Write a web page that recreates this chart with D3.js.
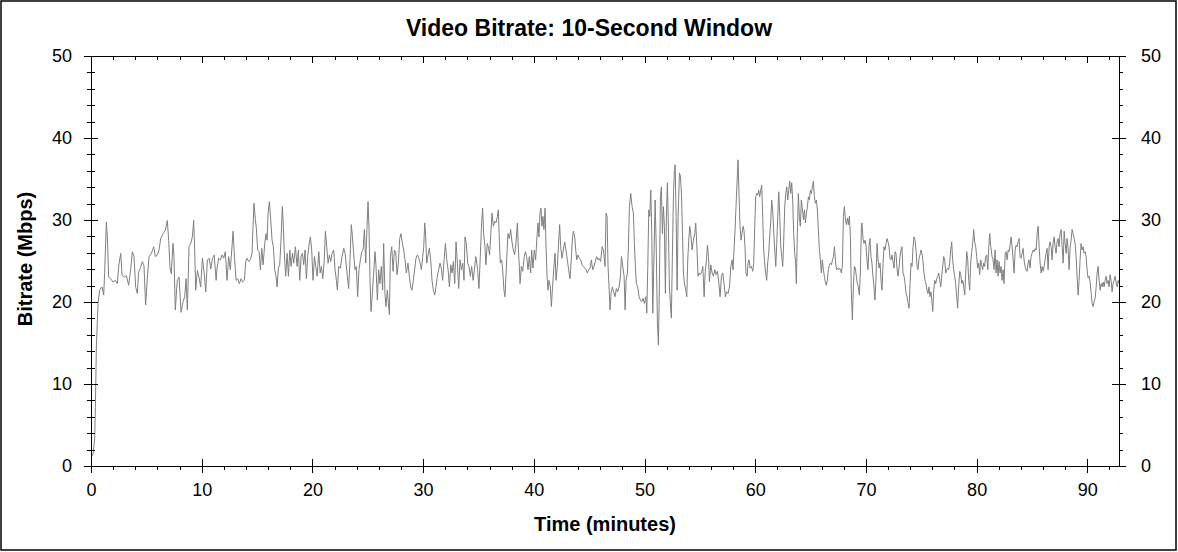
<!DOCTYPE html>
<html>
<head>
<meta charset="utf-8">
<script src="https://cdn.jsdelivr.net/npm/d3@7"></script>
<style>
  body { margin: 0; background: #fff; }
  svg { display: block; font-family: "Liberation Sans", Arial, sans-serif; }
  .axis text { font-size: 18px; fill: #000; }
  .axis line { stroke: #000; }
  .axis path.domain { display: none; }
</style>
</head>
<body>
<div id="chart"></div>
<script>
// minutes into the title
var timeMin = [
  0.05,0.14,0.29,0.35,0.44,0.59,0.74,0.95,1.10,1.19,
  1.34,1.43,1.55,1.73,1.94,2.15,2.33,2.48,2.64,2.76,
  3.00,3.15,3.36,3.54,3.69,3.84,3.99,4.14,4.26,4.44,
  4.59,4.74,4.89,5.05,5.20,5.41,5.62,5.77,5.95,6.10,
  6.25,6.46,6.67,6.85,6.97,7.09,7.21,7.36,7.45,7.57,
  7.75,7.91,8.09,8.27,8.42,8.54,8.66,8.81,8.96,9.11,
  9.23,9.32,9.41,9.56,9.71,9.86,10.02,10.17,10.32,10.47,
  10.63,10.78,10.93,11.08,11.26,
  11.34,11.49,11.64,11.79,11.94,12.09,12.24,12.39,12.54,12.70,
  12.79,12.91,13.06,13.21,13.36,13.51,13.66,13.81,13.93,14.05,
  14.20,14.35,14.50,14.59,14.68,14.80,14.89,15.01,15.14,15.26,
  15.38,15.50,15.65,15.77,15.86,15.95,16.07,16.19,16.31,16.43,
  16.55,16.67,16.76,16.88,17.00,17.12,17.24,17.33,17.42,17.54,
  17.67,17.79,17.91,18.03,18.15,18.27,18.42,18.57,18.69,18.81,
  18.93,19.05,19.17,19.29,19.41,19.53,19.65,19.77,19.89,20.01,
  20.14,20.26,20.38,20.53,20.65,20.77,20.89,21.01,21.13,21.25,
  21.37,21.49,21.61,21.73,21.88,22.00,22.12,22.21,22.33,22.48,
  22.63,22.79,22.91,
  23.11,23.23,23.35,23.47,23.56,23.68,23.80,23.92,24.04,24.16,
  24.29,24.41,24.53,24.65,24.77,24.89,24.98,25.07,25.16,25.25,
  25.37,25.49,25.61,25.70,25.82,25.94,26.06,26.18,26.30,26.39,
  26.51,26.60,26.72,26.82,26.91,27.00,27.12,27.24,27.36,27.48,
  27.60,27.72,27.84,27.96,28.08,28.20,28.32,28.44,28.59,28.71,
  28.83,28.95,29.07,29.19,29.31,29.44,29.56,29.68,29.80,29.92,
  30.01,30.10,30.19,30.28,30.40,30.52,30.64,30.76,30.88,31.00,
  31.12,31.24,31.36,31.48,31.60,31.72,31.85,31.97,32.09,32.21,
  32.33,32.45,32.57,32.69,32.81,32.93,33.05,33.17,33.29,33.41,
  33.53,33.65,33.74,33.86,33.98,34.10,34.22,34.34,34.47,34.59,
  34.71,
  34.76,34.88,35.00,35.12,35.24,35.33,35.42,35.54,35.63,35.75,
  35.87,35.96,36.09,36.18,36.30,36.42,36.54,36.66,36.75,36.84,
  36.93,37.05,37.14,37.26,37.35,37.44,37.53,37.62,37.74,37.86,
  37.98,38.10,38.22,38.34,38.47,38.56,38.65,38.71,38.83,38.95,
  39.07,39.19,39.31,39.43,39.55,39.67,39.76,39.88,40.00,40.12,
  40.24,40.33,40.42,40.51,40.60,40.69,40.78,40.87,40.97,41.06,
  41.15,41.24,41.33,41.45,41.54,41.63,41.75,41.87,41.96,42.08,
  42.20,42.29,42.38,42.50,42.62,42.74,42.86,42.98,43.10,43.22,
  43.34,43.43,43.53,43.65,43.74,43.83,43.95,44.07,44.19,44.31,
  44.43,44.55,44.67,44.79,44.91,45.03,45.15,45.27,45.39,45.51,
  45.63,45.75,45.87,45.99,46.12,46.24,
  46.39,46.48,46.57,46.66,46.75,46.84,46.93,47.05,47.17,47.29,
  47.41,47.53,47.66,47.78,47.87,47.99,48.11,48.20,48.29,48.41,
  48.50,48.59,48.71,48.83,48.95,49.04,49.13,49.22,49.34,49.46,
  49.58,49.70,49.82,49.94,50.07,50.16,50.25,50.34,50.43,50.52,
  50.61,50.70,50.82,50.91,51.00,51.12,51.21,51.30,51.39,51.48,
  51.57,51.66,51.75,51.84,51.93,52.02,52.11,52.20,52.29,52.38,
  52.47,52.57,52.66,52.72,52.81,52.90,52.99,53.11,53.20,53.29,
  53.38,53.47,53.56,53.68,53.77,53.86,53.95,54.04,54.13,54.25,
  54.37,54.49,54.58,54.67,54.79,54.88,55.00,55.13,55.22,55.34,
  55.43,55.55,55.64,55.73,55.82,55.94,56.06,56.18,56.30,56.42,
  56.54,56.66,56.78,56.90,57.02,57.14,57.26,57.38,57.50,57.63,
  57.75,57.87,
  57.95,58.04,58.13,58.22,58.31,58.40,58.49,58.58,58.67,58.76,
  58.85,58.94,59.03,59.12,59.22,59.31,59.40,59.49,59.61,59.73,
  59.82,59.91,60.00,60.09,60.18,60.27,60.36,60.45,60.54,60.63,
  60.72,60.81,60.90,60.99,61.08,61.17,61.26,61.35,61.44,61.53,
  61.62,61.72,61.81,61.90,61.99,62.08,62.17,62.26,62.35,62.44,
  62.53,62.62,62.71,62.80,62.89,62.98,63.07,63.16,63.25,63.34,
  63.43,63.52,63.61,63.67,63.76,63.85,63.94,64.03,64.12,64.22,
  64.31,64.40,64.49,64.58,64.67,64.76,64.85,64.94,65.03,65.12,
  65.21,65.30,65.39,65.48,65.57,65.66,65.75,65.84,65.93,66.02,
  66.11,66.20,66.29,66.38,66.47,66.56,66.65,66.75,66.84,66.93,
  67.02,67.11,67.20,67.29,67.38,67.47,67.56,67.65,67.74,67.83,
  67.92,68.01,68.10,68.19,68.28,68.37,68.46,68.55,68.64,68.73,
  68.82,68.91,69.00,69.09,69.18,69.27,69.36,69.45,69.55,
  69.60,69.69,69.78,69.87,69.96,70.05,70.14,70.23,70.32,70.41,
  70.50,70.59,70.68,70.77,70.87,70.96,71.05,71.14,71.23,71.32,
  71.41,71.50,71.59,71.68,71.77,71.86,71.95,72.04,72.13,72.22,
  72.31,72.40,72.49,72.58,72.67,72.76,72.85,72.94,73.03,73.12,
  73.21,73.30,73.40,73.49,73.58,73.67,73.76,73.85,73.94,74.03,
  74.12,74.21,74.30,74.39,74.48,74.57,74.66,74.75,74.84,74.93,
  75.02,75.11,75.20,75.29,75.38,75.47,75.56,75.65,75.74,75.83,
  75.93,75.99,76.08,76.17,76.26,76.35,76.44,76.53,76.62,76.71,
  76.80,76.89,76.98,77.07,77.16,77.25,77.34,77.43,77.52,77.61,
  77.70,77.79,77.88,77.97,78.06,78.15,78.24,78.33,78.43,78.52,
  78.61,78.70,78.79,78.88,78.97,79.06,79.15,79.24,79.33,79.42,
  79.51,79.60,79.69,79.78,79.87,79.96,80.05,80.14,80.23,80.32,
  80.41,80.50,80.59,80.68,80.77,80.87,80.96,81.05,81.14,81.23,
  81.35,81.44,81.53,81.62,81.71,81.80,81.89,81.98,82.07,82.16,
  82.25,82.34,82.43,82.53,82.62,82.71,82.80,82.89,82.98,83.07,
  83.16,83.25,83.34,83.43,83.52,83.61,83.70,83.79,83.88,83.97,
  84.06,84.15,84.24,84.33,84.42,84.51,84.60,84.69,84.78,84.87,
  84.96,85.06,85.15,85.24,85.33,85.42,85.51,85.60,85.69,85.78,
  85.87,85.96,86.05,86.14,86.23,86.32,86.41,86.50,86.59,86.68,
  86.77,86.86,86.95,87.04,87.13,87.22,87.31,87.40,87.49,87.59,
  87.68,87.77,87.86,87.95,88.04,88.13,88.22,88.31,88.40,88.49,
  88.58,88.67,88.76,88.85,88.94,89.03,89.12,89.21,89.30,89.39,
  89.48,89.57,89.66,89.75,89.84,89.93,90.02,90.12,90.21,90.30,
  90.39,90.48,90.57,90.66,90.75,90.84,90.93,91.02,91.11,91.20,
  91.29,91.38,91.47,91.56,91.65,91.74,91.83,91.92,92.01,92.10,
  92.19,92.28,92.37,92.46,92.55,92.65,92.74,92.83
];

// 10-second window bitrate, Mbps
var bitrateMbps = [
  1.3,1.5,3.4,7.2,14.6,19.9,21.5,21.9,20.9,23.7,
  29.8,28.0,23.1,22.9,22.5,22.7,22.3,24.7,26.0,23.3,
  23.1,23.3,22.1,24.1,26.2,25.6,21.9,21.1,23.7,24.3,
  25.0,24.5,19.7,23.1,25.6,26.0,26.8,25.6,25.8,26.4,
  27.8,28.4,28.8,30.0,27.6,24.3,23.5,27.2,25.6,19.1,
  22.7,23.1,18.8,20.1,20.7,22.9,19.1,26.8,27.2,28.0,
  30.0,26.4,21.5,23.9,23.1,21.9,25.4,23.7,21.3,25.2,
  25.4,24.1,25.4,25.8,22.7,
  24.2,25.4,25.2,25.8,25.4,26.2,22.7,25.6,24.0,27.0,
  28.7,25.6,22.7,22.9,22.3,22.9,22.5,22.7,25.0,25.4,
  25.0,25.2,26.0,29.3,32.1,30.1,29.1,26.4,26.2,24.0,
  26.6,24.6,27.2,28.4,27.6,30.9,32.3,30.1,27.6,26.8,
  24.0,23.2,21.9,24.2,24.6,27.6,31.7,29.3,26.0,23.2,
  26.0,23.2,26.4,24.4,26.0,24.8,26.8,24.4,26.4,22.7,
  25.6,26.0,24.6,26.4,22.9,25.6,27.0,28.0,26.4,22.7,
  25.6,24.4,23.2,26.2,23.6,24.4,22.9,24.8,28.7,26.8,
  24.8,25.8,25.0,26.0,26.4,24.0,22.7,21.5,24.4,24.2,
  25.6,26.6,26.0,
  23.2,21.7,25.2,29.5,28.2,26.0,24.0,24.4,20.7,24.0,
  25.2,26.2,26.4,28.9,24.8,29.3,32.3,28.9,22.7,18.9,
  21.1,23.6,26.2,24.4,20.3,24.0,22.3,24.4,21.5,27.2,
  21.1,19.5,21.5,19.9,18.5,25.6,26.8,23.8,26.4,26.2,
  23.4,24.8,27.8,28.4,27.2,26.4,25.2,23.6,24.8,23.2,
  21.9,21.5,22.7,24.0,25.4,25.8,25.4,24.8,24.0,25.6,
  26.8,29.7,28.0,24.8,25.8,26.6,25.2,22.7,21.5,20.9,
  21.9,23.2,24.0,24.8,24.2,22.7,25.2,27.2,25.2,24.0,
  21.9,24.6,23.6,25.0,22.3,27.4,24.8,21.7,25.2,24.0,
  24.8,22.7,28.0,27.2,24.8,24.4,23.2,24.4,22.7,24.0,
  25.6,
  25.2,24.0,21.7,25.6,29.7,31.5,28.4,26.8,24.6,27.2,
  26.6,25.8,28.9,30.9,29.3,29.9,29.7,30.5,31.3,27.6,
  24.8,25.2,24.0,21.5,20.7,23.2,26.0,28.4,27.8,28.9,
  27.4,26.4,25.8,27.2,29.7,26.4,24.4,22.3,24.4,23.8,
  25.4,26.2,25.6,24.0,25.6,23.6,26.4,24.2,26.4,25.2,
  28.0,29.7,28.0,30.9,31.5,29.3,30.5,28.9,31.5,26.8,
  23.2,21.5,22.7,21.9,19.5,21.5,24.0,26.0,22.7,24.4,
  27.4,29.5,26.8,25.4,26.4,27.4,26.4,25.2,24.0,22.9,
  25.2,27.6,28.7,28.0,26.4,25.2,25.8,25.4,25.2,24.6,
  24.4,24.2,24.0,23.6,24.0,24.2,25.2,24.0,24.4,25.0,
  25.6,25.2,25.4,25.0,26.8,26.4,
  24.4,30.9,30.5,24.4,21.9,19.1,21.1,21.9,21.3,20.7,
  21.7,21.3,21.9,23.2,25.6,24.4,23.2,19.1,22.7,23.6,
  26.8,31.7,33.3,31.7,30.9,27.2,24.4,22.3,21.9,20.7,
  20.3,20.1,20.5,19.9,20.7,18.7,24.4,31.3,30.5,33.7,
  28.4,18.7,26.4,32.5,27.6,17.5,14.8,22.3,32.9,34.1,
  28.4,31.7,29.3,21.1,30.5,34.6,29.3,21.9,19.9,18.1,
  25.6,33.3,36.2,36.8,30.5,21.5,30.5,35.8,35.4,33.3,
  28.8,23.6,22.3,21.5,20.7,25.2,27.6,29.3,28.4,26.4,
  27.6,28.4,29.7,27.2,23.2,23.6,23.4,23.8,24.4,20.7,
  23.6,25.2,27.0,25.6,22.5,24.6,23.6,23.2,24.0,23.4,
  23.8,22.5,20.7,23.2,23.6,22.3,20.7,21.3,21.1,21.9,
  24.4,25.2,
  24.0,26.4,28.8,31.7,34.6,37.4,33.3,29.3,27.6,28.4,
  29.3,28.8,26.8,23.6,23.2,24.8,25.2,24.2,24.4,23.8,
  24.8,29.3,32.9,33.3,33.1,33.7,32.9,33.7,34.3,30.5,
  26.4,24.8,23.6,22.7,24.8,26.0,28.0,29.7,32.5,31.3,
  28.8,26.4,24.4,27.2,30.5,33.5,30.5,26.8,25.6,24.4,
  27.6,31.7,33.3,34.1,32.5,33.7,34.8,33.3,34.6,32.5,
  28.4,26.0,24.8,22.3,28.4,33.3,30.5,29.3,32.5,31.3,
  30.1,31.3,29.7,30.9,31.7,32.9,32.5,33.7,33.3,34.1,
  34.8,32.9,32.1,32.5,31.3,28.8,26.4,25.2,23.6,25.2,
  24.0,23.2,22.5,22.1,22.7,24.0,24.6,24.8,24.6,25.2,
  25.6,26.8,25.2,24.0,24.2,24.0,24.2,24.0,23.6,24.6,
  30.5,31.7,30.1,29.5,30.3,29.5,30.5,28.0,21.1,17.9,
  21.9,24.4,24.2,23.2,22.3,21.9,20.9,23.6,29.3,
  29.7,27.8,27.2,27.6,27.0,25.2,24.0,26.8,27.8,25.6,
  24.8,23.2,21.9,20.3,23.2,27.2,25.2,24.2,24.8,22.7,
  21.5,24.8,26.8,26.4,27.2,27.8,27.4,26.8,25.4,25.2,
  25.8,25.0,24.2,26.2,26.0,24.2,23.2,24.2,25.6,26.4,
  26.8,23.6,23.2,22.3,21.1,20.7,19.9,19.3,22.3,24.8,
  24.4,26.8,28.0,27.6,26.4,24.4,24.0,25.4,25.8,26.4,
  26.0,25.0,23.6,22.7,22.3,21.5,21.1,21.9,20.7,21.3,
  19.9,18.9,21.5,22.7,22.3,22.9,23.2,23.6,22.7,21.9,
  23.2,24.4,25.6,25.2,23.6,24.0,24.2,24.0,24.8,26.4,
  27.4,25.2,24.0,23.2,22.3,20.7,19.3,21.9,23.8,23.4,
  22.3,22.7,21.9,20.9,23.6,26.2,25.2,22.7,21.5,24.8,
  26.2,27.2,28.9,27.4,26.8,25.6,24.2,24.8,23.4,25.2,
  24.6,24.0,24.8,24.4,25.6,25.8,24.0,26.8,28.4,26.8,
  25.6,25.2,24.0,26.4,23.6,25.2,23.2,25.0,23.6,24.4,
  22.7,24.0,22.3,25.8,26.2,25.2,26.4,26.2,27.0,28.0,
  26.8,25.2,23.6,26.4,27.0,26.8,27.4,27.8,25.6,25.4,
  26.0,26.6,25.2,24.4,24.0,23.8,24.8,25.2,24.2,25.6,
  26.0,26.4,26.2,26.6,26.4,28.4,29.3,26.8,24.8,23.6,
  24.4,23.8,24.4,25.2,26.0,26.6,24.0,26.8,27.4,26.8,
  25.2,27.2,28.0,26.8,26.0,27.4,27.8,26.8,28.4,28.9,
  26.8,24.8,28.7,27.2,26.0,27.8,26.4,24.0,26.8,27.6,
  28.9,28.4,27.8,27.2,25.6,23.2,20.9,22.7,25.2,27.2,
  26.4,26.8,26.0,26.2,25.6,24.0,23.0,23.2,22.5,21.1,
  19.9,19.5,20.1,20.5,21.9,23.6,24.4,22.7,21.5,22.3,
  21.9,22.5,21.9,22.7,23.2,22.3,22.7,21.9,23.4,22.7,
  21.3,22.3,22.7,23.2,22.5,21.9,22.7,22.3
];

var xTicks = [0, 10, 20, 30, 40, 50, 60, 70, 80, 90];
var yTicks = [0, 10, 20, 30, 40, 50];
var xMinor = d3.range(0, 93, 2).filter(function (d) { return d % 10 !== 0; });
var yMinor = d3.range(0, 51, 2).filter(function (d) { return d % 10 !== 0; });

var width = 1178, height = 552;
var plotLeft = 91, plotRight = 1119, plotTop = 56, plotBottom = 466;

var points = timeMin.map(function (t, i) { return { t: t, v: bitrateMbps[i] }; });

var svg = d3.select('#chart').append('svg')
    .attr('width', width)
    .attr('height', height);

// outer frame
svg.append('rect')
    .attr('x', 1).attr('y', 1)
    .attr('width', width - 3).attr('height', height - 3)
    .attr('fill', 'none')
    .attr('stroke', '#000')
    .attr('stroke-width', 1.5);

var x = d3.scaleLinear().domain([0, 92.86]).range([plotLeft, plotRight]);
var y = d3.scaleLinear().domain([0, 50]).range([plotBottom, plotTop]);

// the trace
var line = d3.line()
    .x(function (d) { return x(d.t) + 0.5; })
    .y(function (d) { return y(d.v) + 0.5; });

svg.append('path')
    .datum(points)
    .attr('fill', 'none')
    .attr('stroke', '#7f7f7f')
    .attr('stroke-width', 1)
    .attr('d', line);

// plot box
svg.append('rect')
    .attr('x', plotLeft + 0.5).attr('y', plotTop + 0.5)
    .attr('width', plotRight - plotLeft).attr('height', plotBottom - plotTop)
    .attr('fill', 'none')
    .attr('stroke', '#000')
    .attr('shape-rendering', 'crispEdges');

function addAxis(axis, tx, ty) {
    var g = svg.append('g')
        .attr('class', 'axis')
        .attr('shape-rendering', 'crispEdges')
        .attr('transform', 'translate(' + tx + ',' + ty + ')')
        .call(axis);
    g.attr('font-family', null).attr('font-size', null);
    return g;
}

// bottom
addAxis(d3.axisBottom(x).tickValues(xTicks).tickSize(7).tickPadding(10), 0, plotBottom);
addAxis(d3.axisTop(x).tickValues(xTicks).tickSize(7).tickFormat(''), 0, plotBottom);
addAxis(d3.axisBottom(x).tickValues(xMinor).tickSize(4).tickFormat(''), 0, plotBottom);
// top
addAxis(d3.axisBottom(x).tickValues(xTicks).tickSize(7).tickFormat(''), 0, plotTop);
addAxis(d3.axisBottom(x).tickValues(xMinor).tickSize(4).tickFormat(''), 0, plotTop);
// left
addAxis(d3.axisLeft(y).tickValues(yTicks).tickSize(7).tickPadding(12), plotLeft, 0);
addAxis(d3.axisRight(y).tickValues(yTicks.slice(1, 5)).tickSize(7).tickFormat(''), plotLeft, 0);
addAxis(d3.axisLeft(y).tickValues(yMinor).tickSize(4).tickFormat(''), plotLeft, 0);
addAxis(d3.axisRight(y).tickValues(yMinor).tickSize(4).tickFormat(''), plotLeft, 0);
// right
addAxis(d3.axisRight(y).tickValues(yTicks).tickSize(7).tickPadding(15), plotRight, 0);
addAxis(d3.axisLeft(y).tickValues(yTicks.slice(1, 5)).tickSize(7).tickFormat(''), plotRight, 0);
addAxis(d3.axisRight(y).tickValues(yMinor).tickSize(4).tickFormat(''), plotRight, 0);

// titles
svg.append('text')
    .attr('x', 589).attr('y', 36)
    .attr('text-anchor', 'middle')
    .attr('font-size', 23)
    .attr('font-weight', 'bold')
    .text('Video Bitrate: 10-Second Window');

svg.append('text')
    .attr('x', (plotLeft + plotRight) / 2).attr('y', 531)
    .attr('text-anchor', 'middle')
    .attr('font-size', 20)
    .attr('font-weight', 'bold')
    .text('Time (minutes)');

svg.append('text')
    .attr('transform', 'translate(32,259) rotate(-90)')
    .attr('text-anchor', 'middle')
    .attr('font-size', 20)
    .attr('font-weight', 'bold')
    .text('Bitrate (Mbps)');
</script>
</body>
</html>
